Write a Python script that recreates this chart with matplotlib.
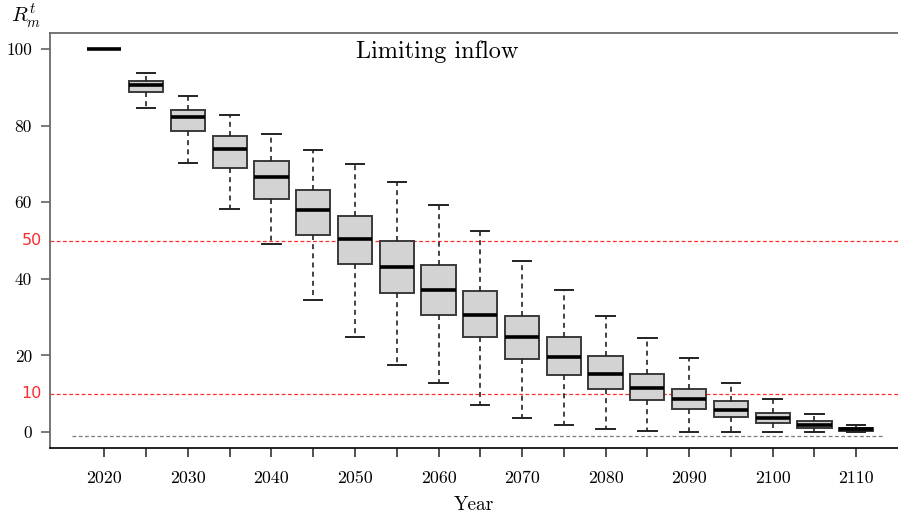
import matplotlib
matplotlib.use("Agg")
import matplotlib.pyplot as plt
import matplotlib.transforms as mtransforms

plt.rcParams["mathtext.fontset"] = "cm"
plt.rcParams["axes.formatter.use_mathtext"] = True

# Distribution of the limiting-inflow ratio per year
years = [2020, 2025, 2030, 2035, 2040, 2045, 2050, 2055, 2060, 2065,
         2070, 2075, 2080, 2085, 2090, 2095, 2100, 2105, 2110]
whisker_low = [100, 84.6, 70.3, 58.2, 49.0, 34.5, 24.8, 17.4, 12.7, 7.1,
               3.8, 1.85, 0.7, 0.2, 0.0, 0.0, 0.0, 0.0, 0.0]
q1 = [100, 88.7, 78.6, 69.0, 60.8, 51.4, 43.9, 36.3, 30.5, 24.8,
      19.0, 14.9, 11.3, 8.3, 6.0, 3.9, 2.5, 1.2, 0.4]
median = [100, 90.5, 82.2, 74.0, 66.6, 57.9, 50.4, 43.1, 37.0, 30.7,
          24.8, 19.6, 15.3, 11.5, 8.6, 5.8, 3.8, 1.9, 0.8]
q3 = [100, 91.7, 84.1, 77.3, 70.7, 63.2, 56.4, 50.0, 43.6, 36.8,
      30.4, 24.8, 19.8, 15.3, 11.3, 8.1, 5.1, 2.9, 1.2]
whisker_high = [100, 93.7, 87.7, 82.7, 77.9, 73.6, 70.1, 65.3, 59.3, 52.4,
                44.8, 37.1, 30.2, 24.5, 19.4, 12.7, 8.6, 4.7, 1.75]

thresholds = [50, 10]
baseline = -1.0
ytick_values = [0, 20, 40, 60, 80, 100]
xtick_major = [2020, 2030, 2040, 2050, 2060, 2070, 2080, 2090, 2100, 2110]
xtick_minor = [2025, 2035, 2045, 2055, 2065, 2075, 2085, 2095, 2105]

fig = plt.figure(figsize=(8.98, 5.16), dpi=100)
ax = fig.add_axes([0.0557, 0.1318, 0.9443, 0.8042])

stats = []
for lo, a, m, b, hi in zip(whisker_low, q1, median, q3, whisker_high):
    stats.append(dict(whislo=lo, q1=a, med=m, q3=b, whishi=hi, fliers=[]))

ax.bxp(stats, positions=years, widths=4.1, patch_artist=True,
       showfliers=False,
       boxprops=dict(facecolor="#d3d3d3", edgecolor="#3a3a3a", linewidth=1.4),
       medianprops=dict(color="black", linewidth=2.6, solid_capstyle="butt"),
       whiskerprops=dict(color="#222222", linewidth=1.2, linestyle=(0, (3, 2.5))),
       capprops=dict(color="#222222", linewidth=1.4),
       capwidths=2.2, manage_ticks=False, zorder=3)

# reference levels
for t in thresholds:
    ax.axhline(t, color="#ff2a2a", linewidth=0.9, linestyle=(0, (3, 2)), zorder=1)
ax.plot([2016.1, 2113.2], [baseline, baseline], color="#7a7a7a",
        linewidth=0.9, linestyle=(0, (3, 2)), zorder=1)

ax.set_xlim(2013.5, 2115.0)
ax.set_ylim(-4.15, 104.2)

ax.spines["right"].set_visible(False)
ax.spines["top"].set_color("#6a6a6a")
ax.spines["top"].set_linewidth(1.3)
ax.spines["left"].set_color("#6a6a6a")
ax.spines["left"].set_linewidth(1.3)
ax.spines["bottom"].set_color("#111111")
ax.spines["bottom"].set_linewidth(1.3)

serif = "cmr10"
ax.set_xticks(xtick_major)
ax.set_xticks(xtick_minor, minor=True)
ax.set_xticklabels([str(x) for x in xtick_major], fontfamily=serif, fontsize=12.8)
ax.tick_params(axis="x", which="both", length=6.5, width=1.1, color="#222222", pad=10)

ax.set_yticks(ytick_values)
ax.set_yticklabels([str(v) for v in ytick_values], fontfamily=serif, fontsize=12.5)
ax.tick_params(axis="y", length=6.5, width=1.1, color="#555555", pad=6.5)

# red labels for the threshold levels
lab_tr = mtransforms.blended_transform_factory(ax.transAxes, ax.transData)
for t in thresholds:
    ax.text(-0.0095, t, str(t), transform=lab_tr, ha="right", va="center",
            color="#ff2a2a", fontsize=11.5, fontfamily="DejaVu Sans")

ax.set_xlabel("Year", fontfamily=serif, fontsize=14, labelpad=7)
fig.text(26 / 898, 1 - 17 / 516, r"$R_m^t$", fontsize=15, ha="center", va="center")

ax.text(2059.8, 99.3, "Limiting inflow", fontfamily=serif, fontsize=17.5,
        ha="center", va="center")

fig.savefig("out.png", dpi=100)
